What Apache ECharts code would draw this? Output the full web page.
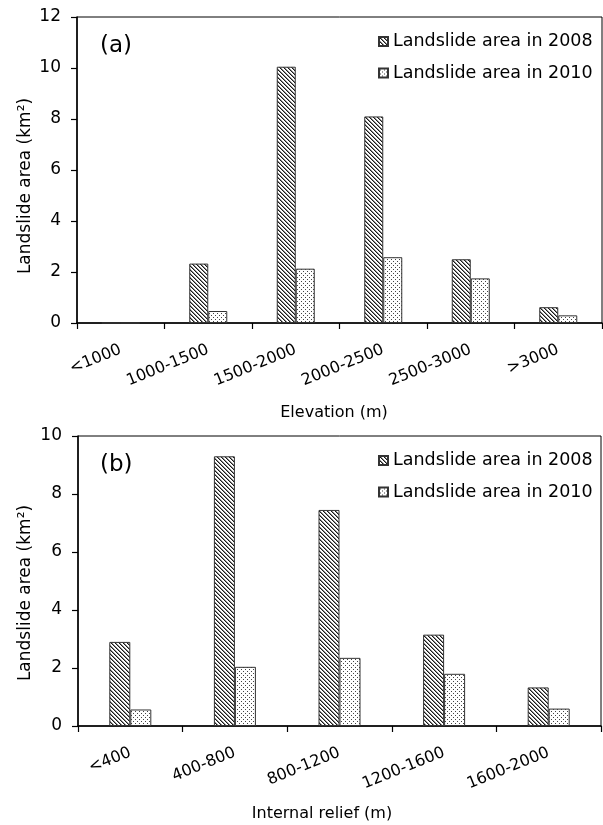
<!DOCTYPE html>
<html>
<head>
<meta charset="utf-8">
<script src="https://cdn.jsdelivr.net/npm/echarts@6/dist/echarts.min.js"></script>
<style>html,body{margin:0;padding:0;background:#fff}#c{width:603px;height:825px}</style>
</head>
<body>
<div id="c"></div>
<script>
// ---- data ----
var elevCats = ['<1000', '1000-1500', '1500-2000', '2000-2500', '2500-3000', '>3000'];
var elev2008 = [0, 2.33, 10.05, 8.1, 2.5, 0.62];
var elev2010 = [0, 0.47, 2.13, 2.58, 1.75, 0.3];

var reliefCats = ['<400', '400-800', '800-1200', '1200-1600', '1600-2000'];
var relief2008 = [2.9, 9.3, 7.45, 3.15, 1.33];
var relief2010 = [0.57, 2.04, 2.35, 1.8, 0.6];

var name2008 = 'Landslide area in 2008';
var name2010 = 'Landslide area in 2010';
var yName = 'Landslide area (km\u00B2)';

// ---- patterns ----
function hatch() {
  var c = document.createElement('canvas'); c.width = 4; c.height = 4;
  var g = c.getContext('2d');
  g.fillStyle = '#fff'; g.fillRect(0, 0, 4, 4);
  g.fillStyle = '#1a1a1a';
  for (var i = 0; i < 4; i++) g.fillRect(i, i, 1, 1);
  g.fillStyle = '#8a8a8a';
  for (var j = 0; j < 4; j++) g.fillRect((j + 1) % 4, j, 1, 1);
  return c;
}
function dots() {
  var c = document.createElement('canvas'); c.width = 4; c.height = 4;
  var g = c.getContext('2d');
  g.fillStyle = '#fff'; g.fillRect(0, 0, 4, 4);
  g.fillStyle = '#444';
  g.fillRect(1, 1, 1, 1); g.fillRect(3, 3, 1, 1);
  return c;
}
var pHatch = { image: hatch(), repeat: 'repeat' };
var pDots = { image: dots(), repeat: 'repeat' };

var FONT = 'DejaVu Sans';
var black = '#000';

function xAxis(idx, cats) {
  return {
    type: 'category', gridIndex: idx, data: cats,
    axisLine: { show: true, lineStyle: { color: black, width: 1.5 } },
    axisTick: { show: true, length: 6, lineStyle: { color: black, width: 1.2 } },
    axisLabel: { rotate: 22, margin: 26, fontSize: 16, fontFamily: FONT, color: black }
  };
}
function yAxis(idx, max) {
  return {
    type: 'value', gridIndex: idx, min: 0, max: max, interval: 2,
    axisLine: { show: true, lineStyle: { color: black, width: 1.5 } },
    axisTick: { show: true, length: 6, lineStyle: { color: black, width: 1.2 } },
    axisLabel: { margin: 16, fontSize: 17, fontFamily: FONT, color: black },
    splitLine: { show: false }
  };
}
function barSeries(name, data, idx, pat, w) {
  return {
    type: 'bar', name: name, data: data, xAxisIndex: idx, yAxisIndex: idx,
    barWidth: w, barGap: '0%',
    itemStyle: { color: pat, borderColor: '#333', borderWidth: 1 },
    emphasis: { disabled: true }
  };
}
function legend(top) {
  return {
    orient: 'vertical', left: 378, top: top, padding: 0,
    icon: 'rect', itemWidth: 9, itemHeight: 9, itemGap: 11.5,
    selectedMode: false,
    textStyle: { fontSize: 17.5, fontFamily: FONT, color: black, lineHeight: 20 },
    data: [name2008, name2010]
  };
}
function txt(x, y, s, size, rot) {
  return {
    type: 'text', x: x, y: y, rotation: rot || 0,
    style: { text: s, fontSize: size, fontFamily: FONT, fill: black,
             align: 'center', verticalAlign: 'middle' },
    silent: true
  };
}

var chart = echarts.init(document.getElementById('c'), null, { renderer: 'canvas' });
chart.setOption({
  animation: false,
  backgroundColor: '#fff',
  grid: [
    { left: 77, top: 17, width: 525, height: 306, show: true, borderColor: black, borderWidth: 1 },
    { left: 78, top: 436, width: 523, height: 290, show: true, borderColor: black, borderWidth: 1 }
  ],
  xAxis: [xAxis(0, elevCats), xAxis(1, reliefCats)],
  yAxis: [yAxis(0, 12), yAxis(1, 10)],
  legend: [legend(31.5), legend(450.5)],
  series: [
    barSeries(name2008, elev2008, 0, pHatch, 19),
    barSeries(name2010, elev2010, 0, pDots, 19),
    barSeries(name2008, relief2008, 1, pHatch, 21),
    barSeries(name2010, relief2010, 1, pDots, 21)
  ],
  graphic: [
    { type: 'text', x: 100, y: 35, style: { text: '(a)', fontSize: 23, fontFamily: FONT, fill: black, verticalAlign: 'top' } },
    { type: 'text', x: 100, y: 454, style: { text: '(b)', fontSize: 23, fontFamily: FONT, fill: black, verticalAlign: 'top' } },
    txt(26, 186, yName, 17, Math.PI / 2),
    txt(26, 593, yName, 17, Math.PI / 2),
    txt(334, 413, 'Elevation (m)', 16),
    txt(322, 814, 'Internal relief (m)', 16)
  ]
});
</script>
</body>
</html>
